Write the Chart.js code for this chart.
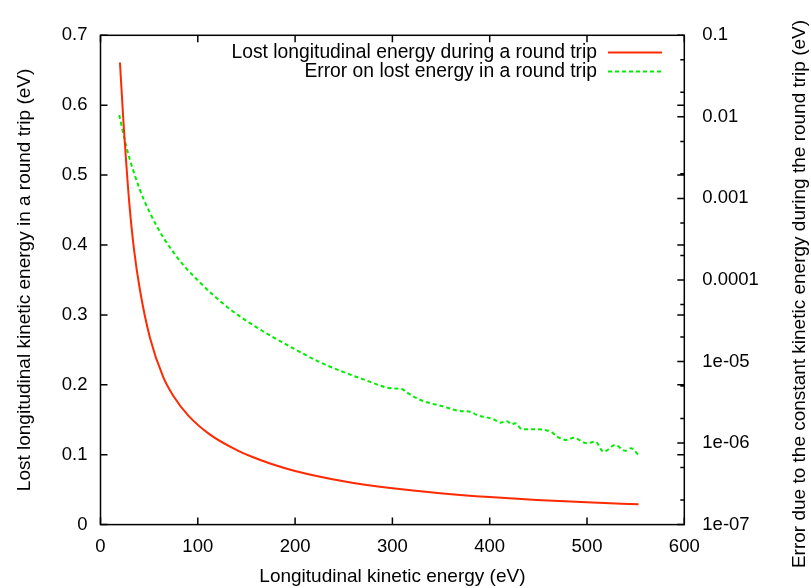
<!DOCTYPE html>
<html>
<head>
<meta charset="utf-8">
<script src="https://cdn.jsdelivr.net/npm/chart.js@4/dist/chart.umd.min.js"></script>
<style>
  html, body { margin: 0; padding: 0; background: #fff; }
  #c { display: block; }
</style>
</head>
<body>
<canvas id="c" width="811" height="588"></canvas>
<script>
// ---- Data ----
const redEnergy = [20, 23.5, 25.9, 29.6, 34.4, 40.5, 50.9, 64.6, 74.9, 90.3, 112.6, 141.7, 153.7, 174.3, 200, 249.7, 300, 349, 400, 448.5, 500, 553];
const redLoss = [0.661, 0.578, 0.528, 0.46, 0.394, 0.336, 0.267, 0.2105, 0.184, 0.156, 0.1288, 0.1055, 0.0982, 0.0875, 0.0768, 0.0621, 0.052, 0.045, 0.0394, 0.0353, 0.0319, 0.029];

const greenEnergy = [19.3, 25.2, 30.3, 33.7, 40, 44, 50.9, 57.8, 64.6, 74.9, 86, 98.9, 112.6, 133.2, 153.7, 174.3, 200, 225.7, 250, 270.3, 300, 310, 314, 329, 353, 369.6, 380, 386.8, 403.9, 410.8, 417.7, 422.8, 426.2, 433.1, 448.6, 464, 469.1, 479.4, 486.2, 499.9, 508.5, 517, 529, 539.3, 545.2, 553];
const greenError = [0.01054, 0.00501, 0.00295, 0.00219, 0.00132, 0.001, 0.000661, 0.000457, 0.000331, 0.000219, 0.000148, 0.000102, 7.08e-5, 4.37e-5, 2.95e-5, 2.09e-5, 1.41e-5, 9.77e-6, 7.41e-6, 6.03e-6, 4.68e-6, 4.60e-6, 4.23e-6, 3.37e-6, 2.79e-6, 2.47e-6, 2.42e-6, 2.21e-6, 1.96e-6, 1.78e-6, 1.85e-6, 1.70e-6, 1.75e-6, 1.48e-6, 1.48e-6, 1.35e-6, 1.20e-6, 1.09e-6, 1.16e-6, 9.93e-7, 1.04e-6, 7.83e-7, 9.46e-7, 8.05e-7, 8.63e-7, 7.13e-7];

const seriesNames = ['Lost longitudinal energy during a round trip', 'Error on lost energy in a round trip'];
const xTitle = 'Longitudinal kinetic energy (eV)';
const yTitle = 'Lost longitudinal kinetic energy in a round trip (eV)';
const y2Title = 'Error due to the constant kinetic energy during the round trip (eV)';
const y2Exponents = [-7, -6, -5, -4, -3, -2, -1];
const y2Labels = ['1e-07', '1e-06', '1e-05', '0.0001', '0.001', '0.01', '0.1'];
const y2MinorMultipliers = [2, 5];

// ---- Chart ----
const FONT = "'Liberation Sans', Arial, Helvetica, sans-serif";
Chart.defaults.color = '#000';
Chart.defaults.font.family = FONT;

const toPoints = (xs, ys) => xs.map((x, i) => ({ x: x, y: ys[i] }));

const frame = {
  id: 'frame',
  afterDatasetsDraw(chart) {
    const ctx = chart.ctx, a = chart.chartArea;
    const sx = chart.scales.x, sy = chart.scales.y, sy2 = chart.scales.y2;
    ctx.save();
    ctx.strokeStyle = '#000';
    ctx.lineWidth = 1.5;
    ctx.beginPath();
    const T = 7, t = 4;
    sx.ticks.forEach(tk => {
      const p = sx.getPixelForValue(tk.value);
      ctx.moveTo(p, a.bottom); ctx.lineTo(p, a.bottom - T);
      ctx.moveTo(p, a.top); ctx.lineTo(p, a.top + T);
    });
    sy.ticks.forEach(tk => {
      const p = sy.getPixelForValue(tk.value);
      ctx.moveTo(a.left, p); ctx.lineTo(a.left + T, p);
      ctx.moveTo(a.right, p); ctx.lineTo(a.right - T, p);
    });
    y2Exponents.forEach(e => {
      const p = sy2.getPixelForValue(Math.pow(10, e));
      ctx.moveTo(a.right, p); ctx.lineTo(a.right - T, p);
      if (e < -1) {
        y2MinorMultipliers.forEach(m => {
          const q = sy2.getPixelForValue(m * Math.pow(10, e));
          ctx.moveTo(a.right, q); ctx.lineTo(a.right - t, q);
        });
      }
    });
    ctx.stroke();
    ctx.strokeRect(a.left, a.top, a.right - a.left, a.bottom - a.top);

    // key (text right-aligned, sample to its right)
    ctx.font = '19.3px ' + FONT;
    ctx.textAlign = 'right';
    ctx.textBaseline = 'middle';
    chart.data.datasets.forEach((ds, i) => {
      const y = 52.5 + i * 19;
      ctx.fillStyle = '#000';
      ctx.fillText(ds.label, 597, y);
      ctx.beginPath();
      ctx.strokeStyle = ds.borderColor;
      ctx.lineWidth = ds.borderWidth;
      ctx.setLineDash(ds.borderDash || []);
      ctx.moveTo(608, y); ctx.lineTo(662, y);
      ctx.stroke();
      ctx.setLineDash([]);
    });

    // right axis title, reading bottom-to-top
    ctx.save();
    ctx.font = '19px ' + FONT;
    ctx.translate(800, 294);
    ctx.rotate(-Math.PI / 2);
    ctx.textAlign = 'center';
    ctx.textBaseline = 'middle';
    ctx.fillStyle = '#000';
    ctx.fillText(y2Title, 0, 0);
    ctx.restore();
    ctx.restore();
  }
};

new Chart(document.getElementById('c'), {
  type: 'line',
  data: {
    datasets: [
      {
        label: seriesNames[0],
        data: toPoints(redEnergy, redLoss),
        yAxisID: 'y',
        borderColor: '#ff2a00',
        borderWidth: 2,
        pointRadius: 0,
        cubicInterpolationMode: 'monotone',
        fill: false
      },
      {
        label: seriesNames[1],
        data: toPoints(greenEnergy, greenError),
        yAxisID: 'y2',
        borderColor: '#00ee00',
        borderWidth: 2,
        borderDash: [4, 3],
        pointRadius: 0,
        cubicInterpolationMode: 'monotone',
        fill: false
      }
    ]
  },
  options: {
    responsive: false,
    animation: false,
    devicePixelRatio: 1,
    layout: { padding: { top: 35.3, left: 0, right: 0, bottom: 0 } },
    plugins: { legend: { display: false }, tooltip: { enabled: false } },
    scales: {
      x: {
        type: 'linear', position: 'bottom', min: 0, max: 600,
        grid: { display: false, drawTicks: false },
        border: { display: false },
        ticks: { stepSize: 100, padding: 11, font: { size: 18.5 }, color: '#000', maxRotation: 0 },
        title: { display: true, text: xTitle, font: { size: 19 }, color: '#000', padding: { top: 0, bottom: 0 } },
        afterFit: s => { s.height = 63.4; }
      },
      y: {
        type: 'linear', position: 'left', min: 0, max: 0.7,
        grid: { display: false, drawTicks: false },
        border: { display: false },
        ticks: { stepSize: 0.1, padding: 13, font: { size: 18.5 }, color: '#000' },
        title: { display: true, text: yTitle, font: { size: 19 }, color: '#000', padding: { top: 13, bottom: 0 } },
        afterFit: s => { s.width = 100.5; }
      },
      y2: {
        type: 'logarithmic', position: 'right', min: 1e-7, max: 0.1,
        grid: { display: false, drawTicks: false },
        border: { display: false },
        ticks: {
          autoSkip: false, padding: 18, font: { size: 18.5 }, color: '#000',
          callback: v => {
            const e = Math.round(Math.log10(v));
            if (Math.abs(Math.log10(v) - e) > 1e-6) return '';
            const i = y2Exponents.indexOf(e);
            return i >= 0 ? y2Labels[i] : '';
          }
        },
        afterFit: s => { s.width = 126.7; }
      }
    }
  },
  plugins: [frame]
});
</script>
</body>
</html>
